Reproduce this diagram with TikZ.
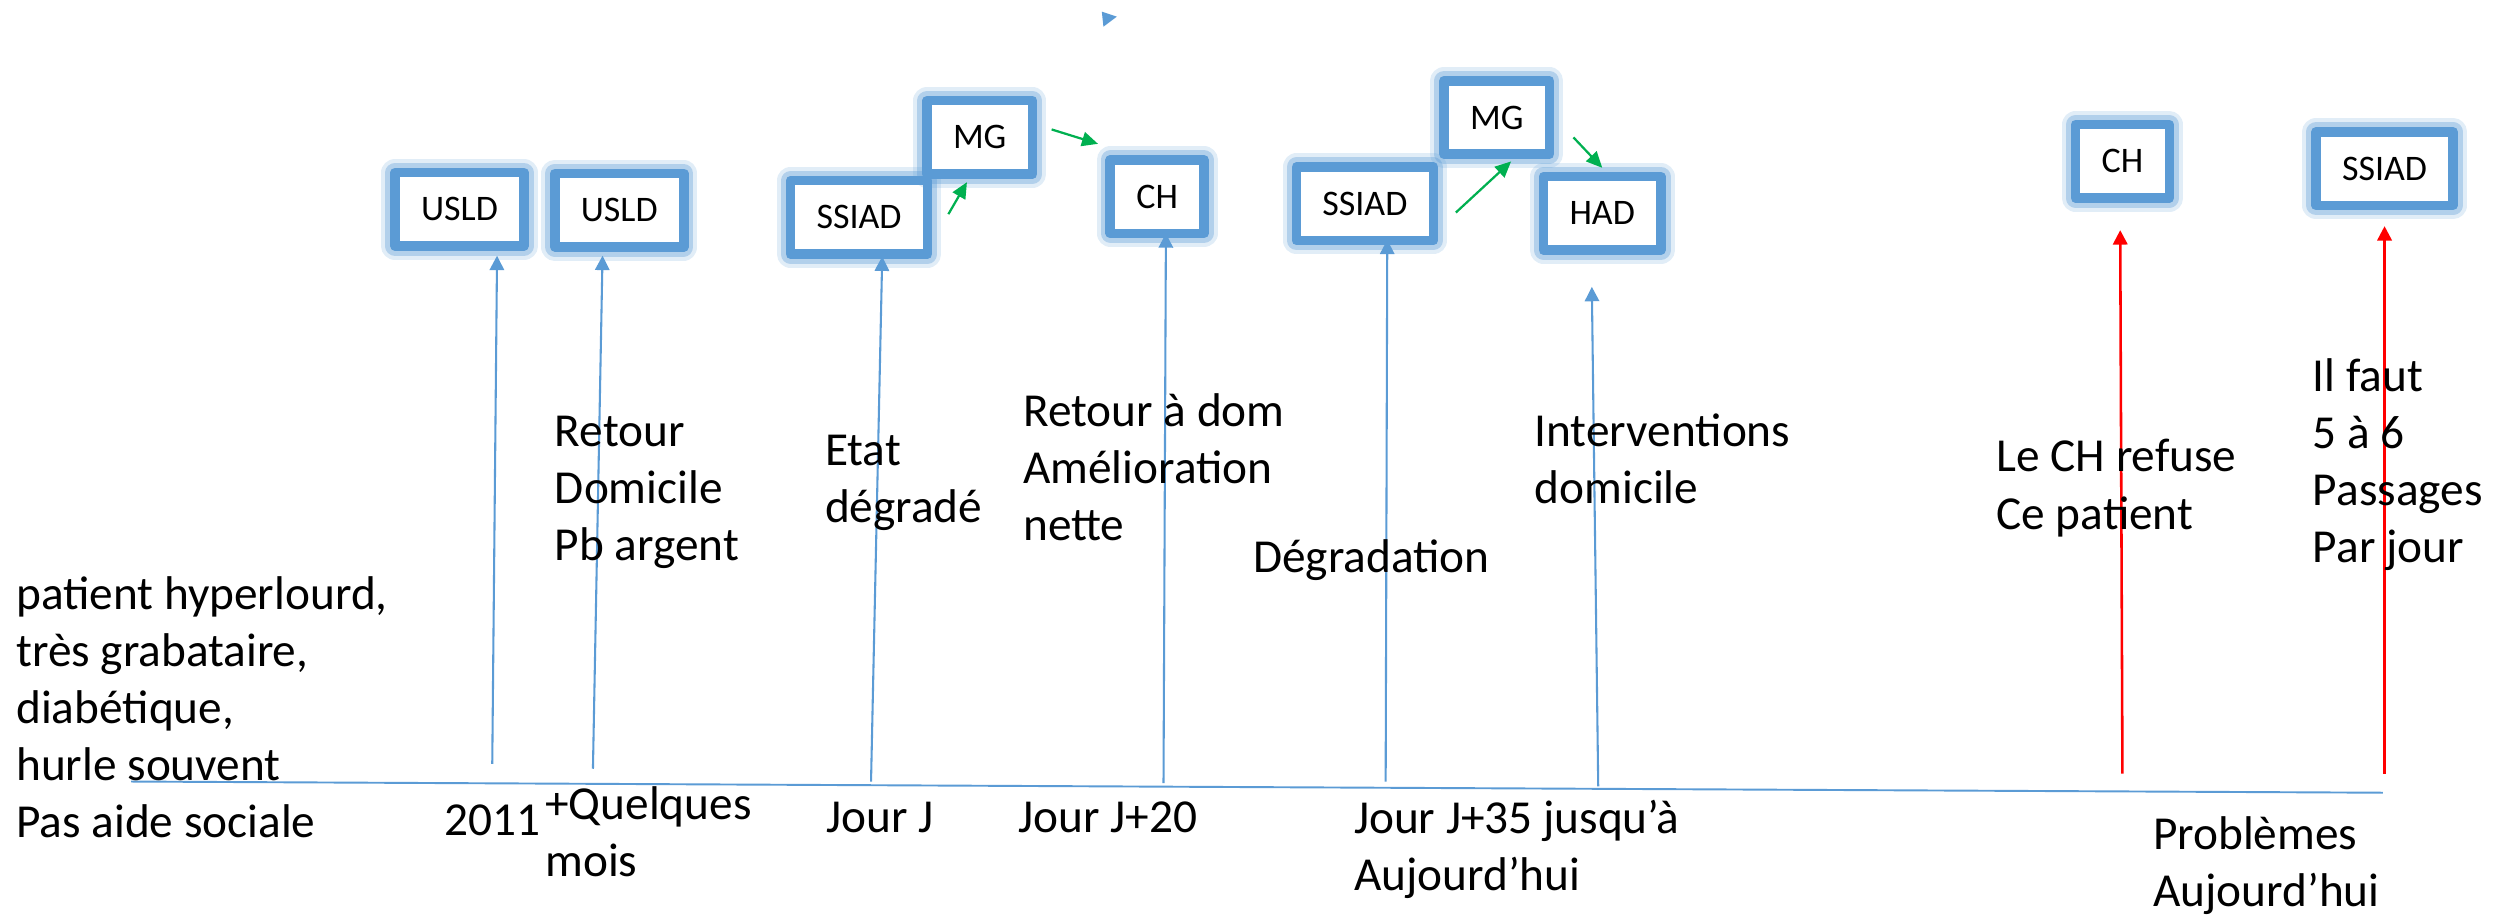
\documentclass[tikz,border=0pt]{standalone}
\usepackage{fontspec}
\setmainfont{Carlito}
\usetikzlibrary{arrows.meta}
\definecolor{boxblue}{RGB}{91,155,213}
\definecolor{arrowgreen}{RGB}{0,176,80}
\definecolor{arrowred}{RGB}{255,0,0}

\tikzset{
  glowbox/.style={draw=boxblue, line width=6pt, line join=round, fill=white,
    minimum height=46pt, inner xsep=16.3pt, inner ysep=0pt,
    font=\fontsize{22.5}{27}\selectfont,
    preaction={draw=boxblue, draw opacity=0.18, line width=17pt, line join=round},
    preaction={draw=boxblue, draw opacity=0.35, line width=12pt, line join=round}},
  txt/.style={anchor=base west, align=left, inner sep=0pt,
    font=\fontsize{29.6}{35.7}\selectfont},
  bluearrow/.style={draw=boxblue, line width=1.3pt, -{Triangle[width=9pt,length=9pt]}},
  greenarrow/.style={draw=arrowgreen, line width=1.4pt, -{Triangle[width=9pt,length=10pt]}},
  redarrow/.style={draw=arrowred, line width=1.6pt, -{Triangle[width=9pt,length=9pt]}}
}

\begin{document}
\begin{tikzpicture}[x=1pt,y=1pt,yscale=-1,xscale=1]
\useasboundingbox (0,0) rectangle (1568,572);

%Shape: Rectangle [boxes]
\node[glowbox] (usldA) at (287.5,131) {USLD};
\node[glowbox] (usldB) at (387.5,131.5) {USLD};
\node[glowbox] (ssiadA) at (537.5,136) {SSIAD};
\node[glowbox] (mgA) at (613,86) {MG};
\node[glowbox] (chA) at (724,123) {CH};
\node[glowbox] (ssiadB) at (854,127.5) {SSIAD};
\node[glowbox] (mgB) at (936.5,73.5) {MG};
\node[glowbox] (had) at (1002.5,133.5) {HAD};
\node[glowbox] (chB) at (1328,101) {CH};
\node[glowbox] (ssiadC) at (1492,105.5) {SSIAD};

%Straight Lines [timeline]
\coordinate (lineStart) at (82,489);
\coordinate (lineEnd) at (1491,496);
\draw[boxblue, line width=1.2pt] (lineStart) -- (lineEnd);

%Straight Lines [blue arrows]
\coordinate (footA) at (308,478);   \coordinate (tipA) at (311,160);
\coordinate (footB) at (371,481);   \coordinate (tipB) at (377,160);
\coordinate (footC) at (545,489);   \coordinate (tipC) at (552,160.5);
\coordinate (footD) at (728,490);   \coordinate (tipD) at (729.5,146);
\coordinate (footE) at (867,489);   \coordinate (tipE) at (868,150);
\coordinate (footF) at (1000,492);  \coordinate (tipF) at (996,179.5);
\draw[bluearrow] (footA) -- (tipA);
\draw[bluearrow] (footB) -- (tipB);
\draw[bluearrow] (footC) -- (tipC);
\draw[bluearrow] (footD) -- (tipD);
\draw[bluearrow] (footE) -- (tipE);
\draw[bluearrow] (footF) -- (tipF);

%Straight Lines [red arrows]
\coordinate (footG) at (1328,484);  \coordinate (tipG) at (1326.6,144);
\coordinate (footH) at (1492,484);  \coordinate (tipH) at (1492,141.5);
\draw[redarrow] (footG) -- (tipG);
\draw[redarrow] (footH) -- (tipH);

%Straight Lines [green arrows]
\coordinate (gA) at ([shift={(10,-2)}]ssiadA.east);
\coordinate (gB) at ([shift={(-8,2)}]mgA.south);
\draw[greenarrow] (gA) -- (gB);
\coordinate (gC) at ([shift={(9,-5)}]mgA.east);
\coordinate (gD) at ([shift={(-37,-7)}]chA.north);
\draw[greenarrow] (gC) -- (gD);
\coordinate (gE) at ([shift={(11,5.5)}]ssiadB.east);
\coordinate (gF) at ([shift={(9,1.5)}]mgB.south);
\draw[greenarrow] (gE) -- (gF);
\coordinate (gG) at ([shift={(12,12.5)}]mgB.east);
\coordinate (gH) at ([shift={(0,-2.5)}]had.north);
\draw[greenarrow] (gG) -- (gH);

%Shape: Triangle [stray tip]
\fill[boxblue] (689.4,7.3) -- (698.8,10.4) -- (690.4,16.7) -- cycle;

%Text Node (anchored at the baseline of the last line)
\node[txt] (patient) at (10,524) {patient hyperlourd,\\très grabataire,\\diabétique,\\hurle souvent\\Pas aide sociale};
\node[txt] (year) at (278,522.5) {2011};
\node[txt] (months) at (341,548.6) {+Quelques\\mois};
\node[txt] (dayJ) at (517,521) {Jour J};
\node[txt] (dayJtwenty) at (637,521) {Jour J+20};
\node[txt] (dayJthirty) at (847,557) {Jour J+35 jusqu’à\\Aujourd’hui};
\node[txt] (problems) at (1347,567.5) {Problèmes\\Aujourd’hui};
\node[txt] (retour) at (347,350.5) {Retour\\Domicile\\Pb argent};
\node[txt] (etat) at (516,327) {Etat\\dégradé};
\node[txt] (amelio) at (640,338.5) {Retour à dom\\Amélioration\\nette};
\node[txt] (degrad) at (784,358) {Dégradation};
\node[txt] (interv) at (960,315) {Interventions\\domicile};
\node[txt] (refuse) at (1249,331) {Le CH refuse\\Ce patient};
\node[txt] (passages) at (1447,352) {Il faut\\5 à 6\\Passages\\Par jour};

\end{tikzpicture}
\end{document}
